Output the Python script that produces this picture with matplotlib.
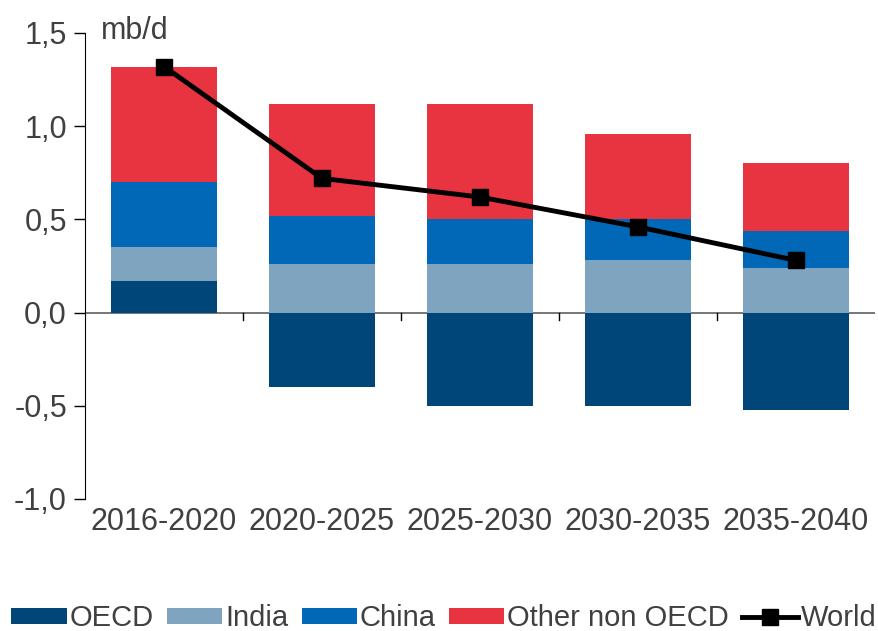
import matplotlib.pyplot as plt
import numpy as np

plt.rcParams['font.family'] = ['Liberation Sans', 'DejaVu Sans']

periods = ["2016-2020", "2020-2025", "2025-2030", "2030-2035", "2035-2040"]
oecd = [0.17, -0.40, -0.50, -0.50, -0.52]
india = [0.18, 0.26, 0.26, 0.28, 0.24]
china = [0.35, 0.26, 0.24, 0.22, 0.20]
other = [0.62, 0.60, 0.62, 0.46, 0.36]
world = [1.32, 0.72, 0.62, 0.46, 0.28]

fig = plt.figure(figsize=(8.79, 6.31), dpi=100)
ax = fig.add_axes([85 / 879, 1 - 499 / 631, 790 / 879, 466 / 631])

x = np.arange(len(periods))
w = 0.67
txt = '#404040'

# OECD can go negative, the others stack on top of the positive part
ax.bar(x, oecd, w, color='#004679', label='OECD', zorder=2)
pos_base = np.maximum(np.array(oecd), 0)
ax.bar(x, india, w, bottom=pos_base, color='#7FA4C0', label='India', zorder=2)
pos_base = pos_base + np.array(india)
ax.bar(x, china, w, bottom=pos_base, color='#0068B6', label='China', zorder=2)
pos_base = pos_base + np.array(china)
ax.bar(x, other, w, bottom=pos_base, color='#E73440', label='Other non OECD', zorder=2)
ax.plot(x, world, color='black', lw=3.5, marker='s', ms=11, label='World', zorder=3)

ax.set_xlim(-0.5, 4.5)
ax.set_ylim(-1.0, 1.5)
ax.set_yticks([-1.0, -0.5, 0.0, 0.5, 1.0, 1.5])
ax.set_yticklabels(['-1,0', '-0,5', '0,0', '0,5', '1,0', '1,5'])
ax.tick_params(axis='y', labelsize=22, colors='black', labelcolor=txt,
               length=8, width=1, direction='out', pad=5)
ax.set_xticks([])

for s in ['top', 'right', 'bottom']:
    ax.spines[s].set_visible(False)
ax.spines['left'].set_color('black')
ax.axhline(0, color='#606060', lw=1.2, zorder=1)
# little ticks between categories on the zero line
for b in x[:-1] + 0.5:
    ax.plot([b, b], [0, -0.04], color='black', lw=1, clip_on=False)

for xi, p in zip(x, periods):
    ax.text(xi, -1.045, p, ha='center', va='top', fontsize=22, color=txt)

ax.text(-0.40, 1.51, 'mb/d', fontsize=22, color=txt, ha='left', va='center')

h, l = ax.get_legend_handles_labels()
order = [1, 2, 3, 4, 0]
fig.legend([h[i] for i in order], [l[i] for i in order],
           loc='lower center', bbox_to_anchor=(0.505, -0.025), ncol=5, frameon=False,
           fontsize=21, handlelength=1.9, handleheight=0.5, handletextpad=0.1,
           columnspacing=0.45, labelcolor=txt, borderaxespad=0.1)

fig.savefig('out.png', dpi=100)
